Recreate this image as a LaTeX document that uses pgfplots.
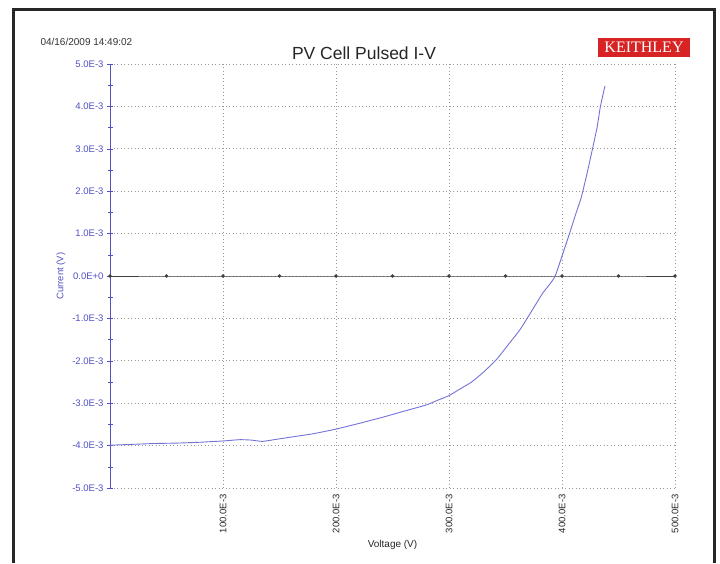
\documentclass[border=0pt]{standalone}
\usepackage{pgfplots}
\pgfplotsset{compat=1.18}
\usepackage{fontspec}
\setmainfont{Liberation Sans}
\newfontfamily\seriffont{Liberation Serif}
\definecolor{axblue}{RGB}{80,80,195}
\definecolor{curveblue}{RGB}{115,115,215}
\definecolor{kred}{RGB}{215,35,35}
\begin{document}
\begin{tikzpicture}[x=1pt,y=1pt]
\useasboundingbox (0,0) rectangle (720,-563);
\draw[line width=3pt, black!85] (13,-563) -- (13,-9) -- (714,-9) -- (714,-563);
\node[anchor=west, font=\fontsize{10}{12}\selectfont, text=black!80] at (37,-42) {04/16/2009 14:49:02};
\node[font=\fontsize{17.5}{20}\selectfont, text=black!85] at (364,-53) {PV Cell Pulsed I-V};
\node[fill=kred, text=white, font=\seriffont\fontsize{16}{18}\selectfont, minimum width=92pt, minimum height=19pt, inner sep=0pt] at (644,-47.5) {KEITHLEY};
\begin{axis}[
  at={(110pt,-488pt)}, anchor=south west,
  scale only axis, width=565pt, height=424pt,
  xmin=0, xmax=500, ymin=-5, ymax=5,
  axis x line*=bottom, axis y line*=left,
  x axis line style={draw=none},
  y axis line style={axblue, line width=0.8pt},
  xtick={100,200,300,400,500},
  xticklabels={100.0E-3,200.0E-3,300.0E-3,400.0E-3,500.0E-3},
  x tick label style={rotate=90, anchor=east, font=\fontsize{9.5}{11}\selectfont, text=black!85},
  major x tick style={draw=none},
  ytick={-5,-4,-3,-2,-1,0,1,2,3,4,5},
  yticklabels={-5.0E-3,-4.0E-3,-3.0E-3,-2.0E-3,-1.0E-3,0.0E+0,1.0E-3,2.0E-3,3.0E-3,4.0E-3,5.0E-3},
  y tick label style={text=axblue, font=\fontsize{9.5}{11}\selectfont},
  minor y tick num=1,
  y tick style={axblue, line width=0.6pt},
  tick align=center,
  major tick length=6pt, minor tick length=5pt,
  grid=major,
  major grid style={dash pattern=on 1pt off 2.5pt, gray!80, line width=0.8pt},
  xlabel={Voltage (V)},
  ylabel={Current (V)},
  xlabel style={font=\fontsize{10}{12}\selectfont, text=black!85},
  ylabel style={font=\fontsize{9.5}{11}\selectfont, text=axblue},
]
\addplot[black!75, line width=0.9pt, mark=*, mark size=1.3pt] coordinates {
(0,0) (50,0) (100,0) (150,0) (200,0) (250,0) (300,0) (350,0) (400,0) (450,0) (500,0)};
\addplot[curveblue, line width=0.9pt, smooth, tension=0.3] table {
V I
0 -3.99
20 -3.97
40 -3.95
60 -3.94
80 -3.92
100 -3.89
115 -3.86
125 -3.87
135 -3.90
150 -3.84
165 -3.78
180 -3.72
200 -3.61
220 -3.48
240 -3.34
260 -3.19
280 -3.04
290 -2.93
300 -2.82
310 -2.66
320 -2.50
330 -2.28
342 -1.97
353 -1.60
363 -1.26
374 -0.79
383 -0.40
389 -0.20
394 0.00
401 0.55
407 1.03
412 1.45
417 1.85
422 2.40
427 3.00
431 3.50
434 4.00
438 4.48
};
\end{axis}
\end{tikzpicture}
\end{document}
